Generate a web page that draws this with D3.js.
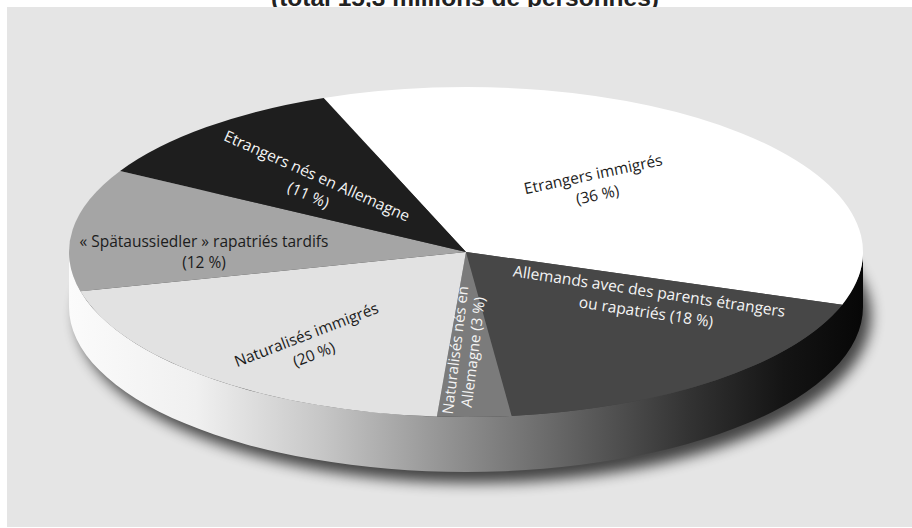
<!DOCTYPE html>
<html>
<head>
<meta charset="utf-8">
<script src="https://cdn.jsdelivr.net/npm/d3@7"></script>
<style>
  html, body { margin: 0; padding: 0; background: #fff; }
  svg { display: block; }
</style>
</head>
<body>
<div id="chart"></div>
<script>
// data
const title = "(total 15,3 millions de personnes)";
const categories = [
    "Etrangers immigrés",
    "Allemands avec des parents étrangers ou rapatriés",
    "Naturalisés nés en Allemagne",
    "Naturalisés immigrés",
    "« Spätaussiedler » rapatriés tardifs",
    "Etrangers nés en Allemagne"
];
const shares = [36, 18, 3, 20, 12, 11];
const labelHead = [
    ["Etrangers immigrés"],
    ["Allemands avec des parents étrangers", "ou rapatriés"],
    ["Naturalisés nés en", "Allemagne"],
    ["Naturalisés immigrés"],
    ["« Spätaussiedler » rapatriés tardifs"],
    ["Etrangers nés en Allemagne"]
];
const shades = ["#ffffff", "#474747", "#7b7b7b", "#e2e2e2", "#a5a5a5", "#1e1e1e"];

// label placement: radial fraction, angle nudge (deg), text rotation (deg), line gap, size
const labelLayout = [
    { f: 0.525, da: -5.5, rot: -12, gap: 21, size: 15.5 },
    { f: 0.546, da: -18, rot: 8.5, gap: 21, size: 15.5 },
    { f: 0.6, da: 1.8, rot: -83, gap: 18, size: 15 },
    { f: 0.682, da: -5, rot: -21, gap: 21, size: 15.5 },
    { f: 0.66, da: -7.3, rot: 0, gap: 21, size: 15.5 },
    { f: 0.56, da: -2.7, rot: 24, gap: 21, size: 15.5 }
];

const width = 912, height = 528;
const cx = 466, cy = 252, rx = 397, ry = 165, depth = 55;
const startDeg = -21;

const svg = d3.select("#chart")
    .append("svg")
    .attr("width", width)
    .attr("height", height);

const defs = svg.append("defs");

const grad = defs.append("linearGradient")
    .attr("id", "sideGrad")
    .attr("gradientUnits", "userSpaceOnUse")
    .attr("x1", cx - rx).attr("x2", cx + rx)
    .attr("y1", 0).attr("y2", 0);
[[0, "#fbfbfb"], [0.16, "#f0f0f0"], [0.32, "#c6c6c6"], [0.49, "#8e8e8e"],
 [0.63, "#626262"], [0.78, "#333333"], [0.9, "#141414"], [1, "#070707"]]
    .forEach(s => grad.append("stop").attr("offset", s[0]).attr("stop-color", s[1]));

defs.append("filter")
    .attr("id", "blur")
    .attr("x", "-20%").attr("y", "-20%")
    .attr("width", "140%").attr("height", "140%")
    .append("feGaussianBlur")
    .attr("stdDeviation", 7);

// title, partly hidden under the grey panel
svg.append("text")
    .attr("x", 465)
    .attr("y", 6)
    .attr("text-anchor", "middle")
    .attr("font-family", "'Liberation Sans', Arial, sans-serif")
    .attr("font-weight", "bold")
    .attr("font-size", 24.5)
    .attr("fill", "#222")
    .text(title);

svg.append("rect")
    .attr("x", 7).attr("y", 7)
    .attr("width", width - 7).attr("height", height - 8)
    .attr("fill", "#e5e5e5");

const toRad = d => d * Math.PI / 180;
const point = (a, f) => [cx + rx * f * Math.sin(a), cy - ry * f * Math.cos(a)];

const pie = d3.pie()
    .sort(null)
    .value(d => d)
    .startAngle(toRad(startDeg))
    .endAngle(toRad(startDeg) + 2 * Math.PI);
const arcs = pie(shares);

const color = d3.scaleOrdinal().domain(categories).range(shades);

// shadow
svg.append("ellipse")
    .attr("cx", cx + 8)
    .attr("cy", cy + depth + 9)
    .attr("rx", rx)
    .attr("ry", ry + 2)
    .attr("fill", "#000")
    .attr("opacity", 0.7)
    .attr("filter", "url(#blur)");

// side wall
svg.append("path")
    .attr("d", `M${cx - rx},${cy}A${rx},${ry} 0 0 0 ${cx + rx},${cy}` +
        `L${cx + rx},${cy + depth}A${rx},${ry} 0 0 1 ${cx - rx},${cy + depth}Z`)
    .attr("fill", "url(#sideGrad)");

// top face
svg.append("g")
    .selectAll("path")
    .data(arcs)
    .enter().append("path")
    .attr("d", d => {
        const p0 = point(d.startAngle, 1), p1 = point(d.endAngle, 1);
        const large = d.endAngle - d.startAngle > Math.PI ? 1 : 0;
        return `M${cx},${cy}L${p0[0]},${p0[1]}A${rx},${ry} 0 ${large} 1 ${p1[0]},${p1[1]}Z`;
    })
    .attr("fill", (d, i) => color(categories[i]));

// labels
const labels = svg.append("g")
    .selectAll("g")
    .data(arcs)
    .enter().append("g")
    .attr("transform", (d, i) => {
        const L = labelLayout[i];
        const mid = (d.startAngle + d.endAngle) / 2 + toRad(L.da);
        const p = point(mid, L.f);
        return `translate(${p[0]},${p[1]}) rotate(${L.rot})`;
    });

labels.each(function (d, i) {
    const head = labelHead[i];
    const L = labelLayout[i];
    const lines = head.length > 1
        ? [head[0], `${head[1]} (${shares[i]} %)`]
        : [head[0], `(${shares[i]} %)`];
    const dark = d3.hsl(color(categories[i])).l < 0.55;
    d3.select(this).selectAll("text")
        .data(lines)
        .enter().append("text")
        .attr("x", 0)
        .attr("y", (t, j) => (j - (lines.length - 1) / 2) * L.gap)
        .attr("dominant-baseline", "central")
        .attr("text-anchor", "middle")
        .attr("font-family", "'Open Sans', 'Noto Sans', sans-serif")
        .attr("font-size", L.size)
        .attr("fill", dark ? "#f4f4f4" : "#1c1c1c")
        .text(t => t);
});
</script>
</body>
</html>
